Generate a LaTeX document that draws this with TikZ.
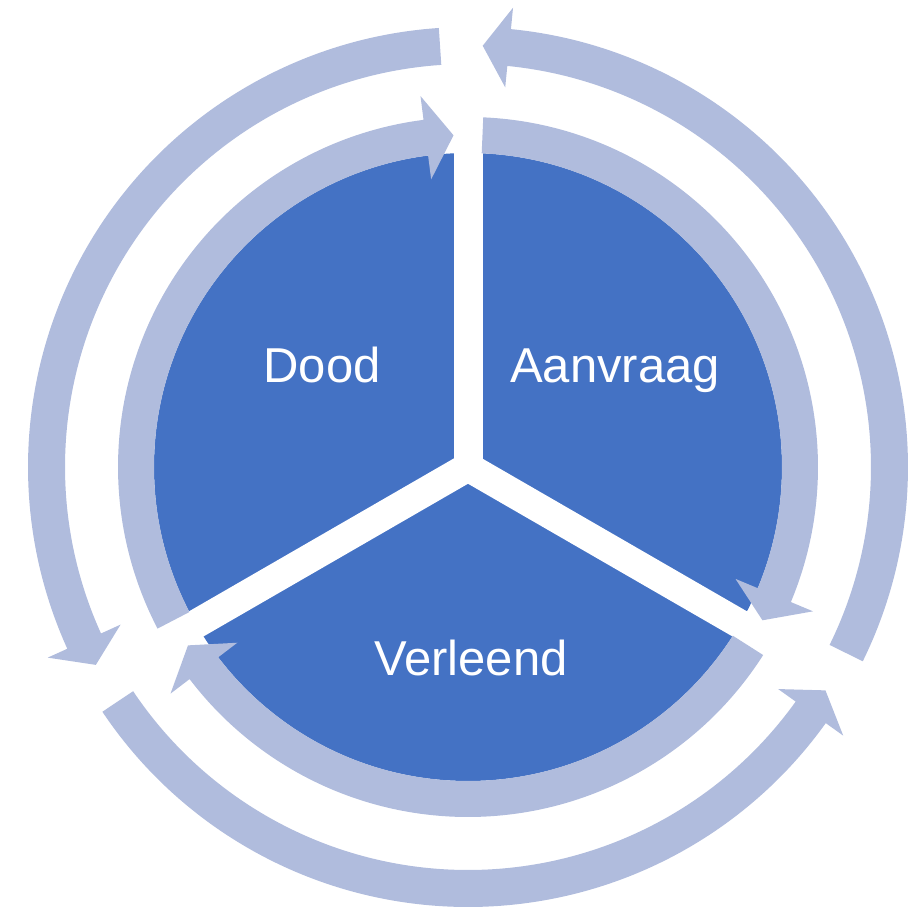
\documentclass[tikz,border=0pt]{standalone}
\usepackage{fontspec}
\setmainfont{Liberation Sans}
\definecolor{pieblue}{RGB}{68,114,196}
\definecolor{ringblue}{RGB}{176,188,221}
% start angle, head base angle, tip angle, mid radius, half shaft, half head
\newcommand{\ringarrow}[6]{%
  \fill[ringblue] ({#1}:{#4-#5}) arc[start angle={#1}, end angle={#2}, radius={#4-#5}]
    -- ({#2}:{#4-#6}) -- ({#3}:{#4}) -- ({#2}:{#4+#6}) -- ({#2}:{#4+#5})
    arc[start angle={#2}, end angle={#1}, radius={#4+#5}] -- cycle;}

\begin{document}
\begin{tikzpicture}
  [x=1pt,y=1pt,every node/.style={text=white,anchor=base,font=\fontsize{49}{49}\selectfont}]
  \useasboundingbox (-468,-444) rectangle (450,467);
  \fill[pieblue] (0,0) circle (314);
  \foreach \a in {90,210,330}
    \draw[white,line width=29] (0,0) -- (\a:318);

  % inner ring, clockwise
  \foreach \s/\b/\t in {207.5/97.3/92.5, 87.5/-22.7/-27.5, -32.5/-142.7/-147.5}
    \ringarrow{\s}{\b}{\t}{332}{18}{42};
  % outer ring, counter clockwise
  \foreach \s/\b/\t in {-26.2/84.4/88, 93.8/204.4/208, 213.8/324.4/328}
    \ringarrow{\s}{\b}{\t}{421.5}{18.5}{40};

  \node (dood) at (-146,85) {Dood};
  \node (aanvraag) at (147,85) {Aanvraag};
  \node (verleend) at (3,-208) {Verleend};
\end{tikzpicture}
\end{document}
